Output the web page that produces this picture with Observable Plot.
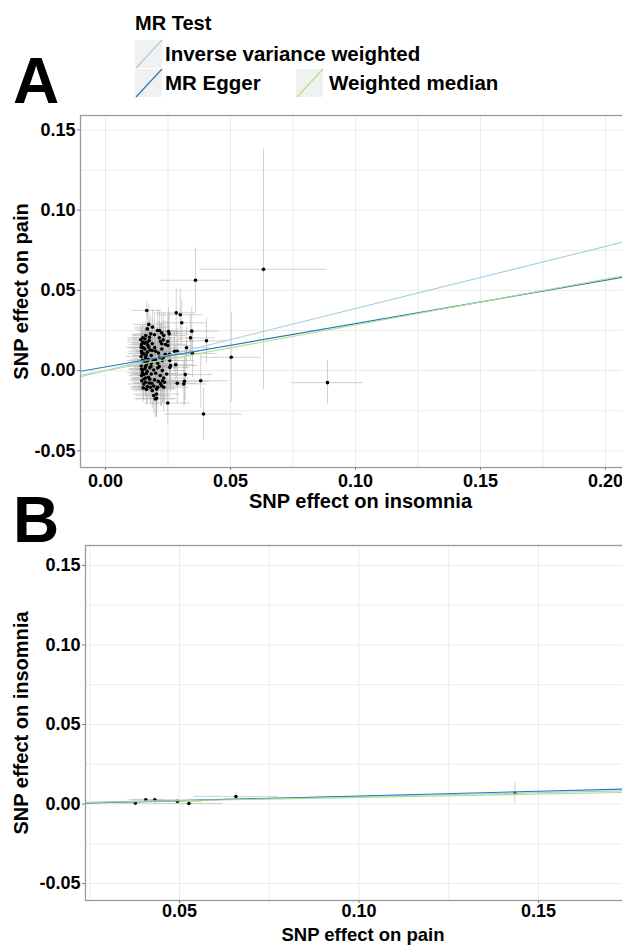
<!DOCTYPE html>
<html><head><meta charset="utf-8">
<script src="https://cdn.jsdelivr.net/npm/d3@7"></script>
<script src="https://cdn.jsdelivr.net/npm/@observablehq/plot@0.6"></script>
<style>
html,body{margin:0;padding:0;background:#fff;overflow:hidden;width:622px;height:946px}
#wrap{position:relative;width:622px;height:946px;overflow:hidden;font-family:"Liberation Sans",Arial,sans-serif;font-weight:bold;color:#000}
.letter{position:absolute;font-size:64px;line-height:1;font-weight:bold;z-index:5}
svg{max-width:none !important;overflow:visible}
</style></head><body><div id="wrap"></div>
<script>
// ---- shared ----
const methods = ["Inverse variance weighted", "MR Egger", "Weighted median"];
const methodColors = ["#a6cee3", "#2a7cb8", "#b2df8a"];
const legendTitle = "MR Test";
const yTicks = [-0.05, 0, 0.05, 0.1, 0.15];
const yGrid = [-0.05, -0.025, 0, 0.025, 0.05, 0.075, 0.1, 0.125, 0.15];

// ---- Panel A: insomnia (x) -> pain (y) ----
const insomniaBetaA = [0.0173,0.0188,0.0167,0.0208,0.0216,0.0181,0.0161,0.0196,0.0149,0.0141,
 0.0176,0.0252,0.0255,0.0225,0.0233,0.0215,0.0231,0.0249,0.0220,0.0157,
 0.0167,0.0144,0.0187,0.0225,0.0240,0.0249,0.0143,0.0157,0.0173,0.0187,
 0.0201,0.0225,0.0144,0.0153,0.0167,0.0183,0.0143,0.0160,0.0217,0.0231,
 0.0200,0.0148,0.0167,0.0183,0.0209,0.0227,0.0143,0.0160,0.0177,0.0193,
 0.0209,0.0227,0.0215,0.0148,0.0167,0.0183,0.0201,0.0219,0.0233,0.0144,
 0.0160,0.0177,0.0196,0.0211,0.0228,0.0236,0.0145,0.0153,0.0167,0.0180,
 0.0193,0.0220,0.0209,0.0151,0.0164,0.0187,0.0205,0.0172,0.0160,0.0204,
 0.0233,0.0185,0.0260,0.0257,0.0146,0.0152,0.0155,0.0147,0.0153,0.0158,
 0.0162,0.0149,0.0164,0.0171,0.0174,0.0178,0.0169,0.0154,0.0163,0.0191,
 0.0197,0.0212,0.0144,0.0193,0.0199,0.0224,0.0204,0.0175,0.0158,0.0239,
 0.0245,0.0182,0.0165,0.0283,0.0299,0.0305,0.0345,0.0340,0.0404,0.0503,
 0.0324,0.0348,0.0381,0.0392,0.0249,0.0204,0.0313,0.0287,0.0316,0.0319,
 0.0281,0.0287,0.0276,0.0256,0.0360,0.0632,0.0888,0.0257];
const painBetaA = [0.0288,0.0271,0.0260,0.0250,0.0250,0.0229,0.0219,0.0223,0.0204,0.0192,
 0.0208,0.0244,0.0229,0.0235,0.0219,0.0204,0.0192,0.0181,0.0181,0.0171,
 0.0177,0.0163,0.0167,0.0167,0.0163,0.0156,0.0146,0.0135,0.0146,0.0125,
 0.0121,0.0135,0.0121,0.0104,0.0115,0.0094,0.0088,0.0079,0.0083,0.0079,
 0.0067,0.0063,0.0052,0.0046,0.0046,0.0063,0.0031,0.0025,0.0017,0.0004,
 0.0017,0.0000,0.0025,0.0004,-0.0004,-0.0021,-0.0017,-0.0031,-0.0046,-0.0031,
 -0.0046,-0.0054,-0.0058,-0.0067,-0.0063,-0.0073,-0.0063,-0.0083,-0.0100,-0.0104,
 -0.0096,-0.0083,-0.0104,-0.0108,-0.0117,-0.0125,-0.0115,-0.0042,-0.0073,-0.0146,
 -0.0104,-0.0079,0.0031,0.0063,0.0108,0.0142,0.0058,-0.0012,-0.0024,0.0012,
 0.0095,0.0178,0.0036,0.0071,-0.0078,0.0128,0.0158,-0.0052,-0.0018,0.0068,
 0.0143,0.0109,0.0010,-0.0156,-0.0177,-0.0094,-0.0113,0.0188,0.0198,0.0102,
 -0.0021,0.0026,0.0375,0.0360,0.0348,0.0298,0.0246,0.0204,0.0186,0.0083,
 0.0142,0.0106,-0.0063,-0.0271,-0.0202,-0.0173,-0.0083,-0.0079,-0.0067,-0.0025,
 0.0036,0.0121,0.0121,0.0102,0.0563,0.0631,-0.0075,0.0019];
const insomniaSeA = [0.006,0.007,0.005,0.008,0.006,0.007,0.005,0.009,0.006,0.005,
 0.007,0.010,0.008,0.007,0.009,0.006,0.008,0.011,0.007,0.005,
 0.006,0.005,0.007,0.008,0.009,0.010,0.006,0.005,0.007,0.006,
 0.008,0.007,0.005,0.006,0.005,0.007,0.006,0.005,0.008,0.009,
 0.007,0.006,0.005,0.006,0.008,0.009,0.006,0.005,0.006,0.007,
 0.008,0.009,0.007,0.005,0.006,0.007,0.008,0.009,0.010,0.005,
 0.006,0.007,0.008,0.007,0.009,0.008,0.005,0.006,0.006,0.007,
 0.008,0.009,0.007,0.005,0.006,0.007,0.008,0.006,0.005,0.009,
 0.010,0.007,0.011,0.010,0.005,0.006,0.005,0.006,0.005,0.006,
 0.005,0.006,0.006,0.007,0.006,0.007,0.006,0.005,0.006,0.007,
 0.008,0.008,0.005,0.007,0.008,0.009,0.007,0.006,0.005,0.009,
 0.010,0.007,0.006,0.008,0.009,0.010,0.011,0.010,0.008,0.012,
 0.009,0.010,0.011,0.0155,0.009,0.008,0.009,0.008,0.010,0.011,
 0.008,0.009,0.008,0.009,0.014,0.0254,0.0144,0.008];
const painSeA = [0.012,0.011,0.010,0.013,0.012,0.011,0.009,0.014,0.010,0.009,
 0.011,0.015,0.013,0.012,0.014,0.010,0.012,0.016,0.011,0.009,
 0.010,0.009,0.011,0.012,0.014,0.015,0.010,0.009,0.011,0.010,
 0.012,0.011,0.009,0.010,0.009,0.011,0.010,0.009,0.013,0.014,
 0.011,0.010,0.009,0.010,0.013,0.014,0.010,0.009,0.010,0.011,
 0.012,0.014,0.011,0.009,0.010,0.011,0.012,0.014,0.015,0.009,
 0.010,0.011,0.012,0.011,0.014,0.013,0.009,0.010,0.010,0.011,
 0.012,0.014,0.011,0.009,0.010,0.011,0.013,0.010,0.009,0.014,
 0.015,0.011,0.017,0.016,0.009,0.010,0.009,0.010,0.009,0.010,
 0.009,0.010,0.010,0.011,0.010,0.011,0.010,0.009,0.010,0.011,
 0.012,0.012,0.009,0.011,0.012,0.013,0.011,0.010,0.009,0.014,
 0.015,0.011,0.006,0.015,0.016,0.014,0.015,0.014,0.014,0.028,
 0.013,0.015,0.017,0.016,0.014,0.012,0.014,0.013,0.015,0.016,
 0.012,0.014,0.013,0.014,0.020,0.075,0.0136,0.012];
const slopesA = [0.387, 0.270, 0.285];
const interceptsA = [0, 0.0023, 0];
const xTicksA = [0, 0.05, 0.1, 0.15, 0.2];
const xGridA = [0, 0.025, 0.05, 0.075, 0.1, 0.125, 0.15, 0.175, 0.2];

// ---- Panel B: pain (x) -> insomnia (y) ----
const painBetaB = [0.0377, 0.0406, 0.0431, 0.0494, 0.0526, 0.0657, 0.1434];
const insomniaBetaB = [0.0006, 0.0027, 0.0027, 0.0017, 0.0004, 0.0048, 0.0067];
const painSeB = [0.006, 0.005, 0.006, 0.007, 0.0095, 0.0117, 0.003];
const insomniaSeB = [0.0012, 0.0010, 0.0010, 0.0012, 0.0012, 0.0022, 0.0065];
const slopesB = [0.048, 0.059, 0.042];
const interceptsB = [0, -0.0008, 0];
const xTicksB = [0.05, 0.1, 0.15];
const xGridB = [0.025, 0.05, 0.075, 0.1, 0.125, 0.15, 0.175];

const fmt = d => d.toFixed(2);
const FONT = '"Liberation Sans", Arial, sans-serif';

function scatterPanel(o) {
  const pts = o.xs.map((x, i) => ({x, y: o.ys[i], xse: o.xse[i], yse: o.yse[i]}));
  const fits = methods.map((m, i) => ({
    method: m,
    x1: o.xDom[0], x2: o.xDom[1],
    y1: o.ints[i] + o.slopes[i] * o.xDom[0],
    y2: o.ints[i] + o.slopes[i] * o.xDom[1]
  }));
  return Plot.plot({
    width: o.width, height: o.height,
    marginLeft: o.ml, marginRight: 0, marginTop: o.mt, marginBottom: o.mb,
    style: {background: "transparent", fontFamily: FONT, fontWeight: "bold", fontSize: "18px", color: "#000", overflow: "visible"},
    x: {domain: o.xDom},
    y: {domain: o.yDom},
    color: {type: "ordinal", domain: methods, range: methodColors},
    marks: [
      Plot.gridX(o.xGrid, {stroke: "#ebebeb", strokeOpacity: 1}),
      Plot.gridY(yGrid, {stroke: "#ebebeb", strokeOpacity: 1}),
      Plot.ruleX(pts, {x: "x", y1: d => d.y - d.yse, y2: d => d.y + d.yse, stroke: "#a8a8a8", strokeOpacity: 0.5, clip: true}),
      Plot.ruleY(pts, {y: "y", x1: d => d.x - d.xse, x2: d => d.x + d.xse, stroke: "#a8a8a8", strokeOpacity: 0.5, clip: true}),
      Plot.dot(pts, {x: "x", y: "y", r: 1.8, fill: "#000", stroke: null, clip: true}),
      Plot.link(fits, {x1: "x1", y1: "y1", x2: "x2", y2: "y2", stroke: "method", strokeWidth: 1.1, clip: true}),
      Plot.frame({stroke: "#9a9a9a", strokeWidth: 1.3}),
      Plot.axisX({ticks: o.xTicks, tickFormat: fmt, tickSize: 3, tickPadding: o.xtp, fontSize: 18, stroke: "#7f7f7f", fill: "#000", label: null}),
      Plot.axisX({ticks: [], tickSize: 0, fontSize: o.xfs, fill: "#000",
        label: o.xLabel, labelAnchor: "center", labelOffset: o.xlo, labelArrow: "none"}),
      Plot.axisY({ticks: yTicks, tickFormat: fmt, tickSize: 3, tickPadding: 2, fontSize: 18, stroke: "#7f7f7f", fill: "#000", label: null}),
      Plot.axisY({ticks: [], tickSize: 0, fontSize: 20, fill: "#000",
        label: o.yLabel, labelAnchor: "center", labelOffset: o.ylo, labelArrow: "none"})
    ]
  });
}

const wrap = document.getElementById("wrap");

const plotA = scatterPanel({
  xs: insomniaBetaA, ys: painBetaA, xse: insomniaSeA, yse: painSeA,
  slopes: slopesA, ints: interceptsA,
  xDom: [-0.01, 0.214], yDom: [-0.0604, 0.159],
  xTicks: xTicksA, xGrid: xGridA,
  xLabel: "SNP effect on insomnia", yLabel: "SNP effect on pain",
  width: 640, height: 415, ml: 80, mt: 15, mb: 48, xlo: 40, ylo: 67, xtp: 4, xfs: 20
});
plotA.style.position = "absolute"; plotA.style.left = "0px"; plotA.style.top = "100px";
wrap.appendChild(plotA);

const plotB = scatterPanel({
  xs: painBetaB, ys: insomniaBetaB, xse: painSeB, yse: insomniaSeB,
  slopes: slopesB, ints: interceptsB,
  xDom: [0.0238, 0.1784], yDom: [-0.0606, 0.1625],
  xTicks: xTicksB, xGrid: xGridB,
  xLabel: "SNP effect on pain", yLabel: "SNP effect on insomnia",
  width: 640, height: 416, ml: 85, mt: 15, mb: 46, xlo: 40, ylo: 72, xtp: 1, xfs: 18.5
});
plotB.style.position = "absolute"; plotB.style.left = "0px"; plotB.style.top = "530px";
wrap.appendChild(plotB);

// panel letters
[["A", 49], ["B", 488]].forEach(([t, top]) => {
  const d = document.createElement("div");
  d.className = "letter"; d.textContent = t;
  d.style.left = "13px"; d.style.top = top + "px";
  wrap.appendChild(d);
});

// legend
const leg = d3.create("svg").attr("width", 622).attr("height", 110)
  .style("position", "absolute").style("left", "0px").style("top", "0px")
  .style("font-family", FONT).style("font-weight", "bold");
leg.append("text").attr("x", 135).attr("y", 30).attr("font-size", 20).text(legendTitle);
const legPos = [[135, 40, 165, 61], [135, 69, 165, 90], [296, 69, 329, 90]];
methods.forEach((m, i) => {
  const [bx, by, tx, ty] = legPos[i];
  leg.append("rect").attr("x", bx).attr("y", by).attr("width", 27).attr("height", 28).attr("fill", "#f0f1f1");
  leg.append("line").attr("x1", bx + 1).attr("y1", by + 28).attr("x2", bx + 27).attr("y2", by)
    .attr("stroke", methodColors[i]).attr("stroke-width", 1.2);
  leg.append("text").attr("x", tx).attr("y", ty).attr("font-size", 20.5).text(m);
});
wrap.appendChild(leg.node());
</script></body></html>
